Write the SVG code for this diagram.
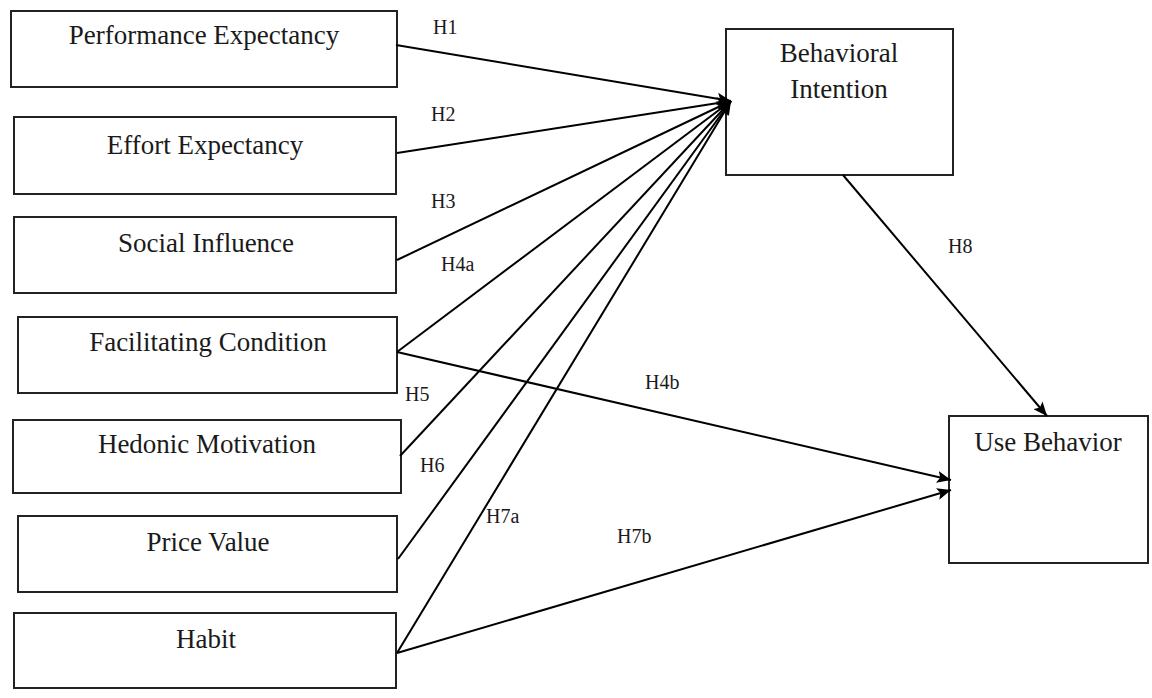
<svg xmlns="http://www.w3.org/2000/svg" width="1152" height="698" viewBox="0 0 1152 698">
<defs>
<marker id="arr" markerUnits="userSpaceOnUse" markerWidth="16" markerHeight="12" refX="14" refY="6" orient="auto">
<path d="M0,0 L14,6 L0,12 L3,6 Z" fill="#000"/>
</marker>
<style>
.box{fill:#fff;stroke:#222;stroke-width:2}
.t{font-family:"Liberation Serif","Times New Roman",serif;font-size:27px;fill:#1a1a1a;text-anchor:middle}
.lb{font-family:"Liberation Serif","Times New Roman",serif;font-size:20px;fill:#1a1a1a}
.c{stroke:#000;stroke-width:2;fill:none;marker-end:url(#arr)}
</style>
</defs>
<rect width="1152" height="698" fill="#fff"/>
<g id="pe"><rect class="box" x="11" y="11" width="386" height="76"/><text class="t" x="204" y="44">Performance Expectancy</text></g>
<g id="ee"><rect class="box" x="14" y="117" width="382" height="77"/><text class="t" x="205" y="154">Effort Expectancy</text></g>
<g id="si"><rect class="box" x="14" y="217" width="382" height="76"/><text class="t" x="206" y="252">Social Influence</text></g>
<g id="fc"><rect class="box" x="18" y="317" width="379" height="76"/><text class="t" x="208" y="351">Facilitating Condition</text></g>
<g id="hm"><rect class="box" x="13" y="420" width="388" height="73"/><text class="t" x="207" y="453">Hedonic Motivation</text></g>
<g id="pv"><rect class="box" x="18" y="516" width="379" height="76"/><text class="t" x="208" y="551">Price Value</text></g>
<g id="hb"><rect class="box" x="14" y="613" width="382" height="75"/><text class="t" x="206" y="648">Habit</text></g>
<g id="bi"><rect class="box" x="726" y="29" width="227" height="146"/><text class="t" x="839" y="62">Behavioral</text><text class="t" x="839" y="98">Intention</text></g>
<g id="ub"><rect class="box" x="949" y="416" width="199" height="147"/><text class="t" x="1048" y="451">Use Behavior</text></g>
<g id="connectors">
<line class="c" x1="396" y1="45" x2="731" y2="101"/>
<line class="c" x1="397" y1="153" x2="731" y2="101"/>
<line class="c" x1="397" y1="260" x2="731" y2="101"/>
<line class="c" x1="397" y1="352" x2="731" y2="101"/>
<line class="c" x1="400" y1="456" x2="731" y2="101"/>
<line class="c" x1="398" y1="559" x2="731" y2="101"/>
<line class="c" x1="397" y1="653" x2="731" y2="101"/>
<line class="c" x1="397" y1="352" x2="951" y2="480"/>
<line class="c" x1="397" y1="653" x2="951" y2="490"/>
<line class="c" x1="843" y1="175" x2="1047" y2="416"/>
</g>
<g id="labels">
<text class="lb" x="433" y="34">H1</text>
<text class="lb" x="431" y="121">H2</text>
<text class="lb" x="431" y="208">H3</text>
<text class="lb" x="441" y="271">H4a</text>
<text class="lb" x="405" y="401">H5</text>
<text class="lb" x="645" y="389">H4b</text>
<text class="lb" x="420" y="472">H6</text>
<text class="lb" x="486" y="523">H7a</text>
<text class="lb" x="617" y="543">H7b</text>
<text class="lb" x="948" y="253">H8</text>
</g>
</svg>
